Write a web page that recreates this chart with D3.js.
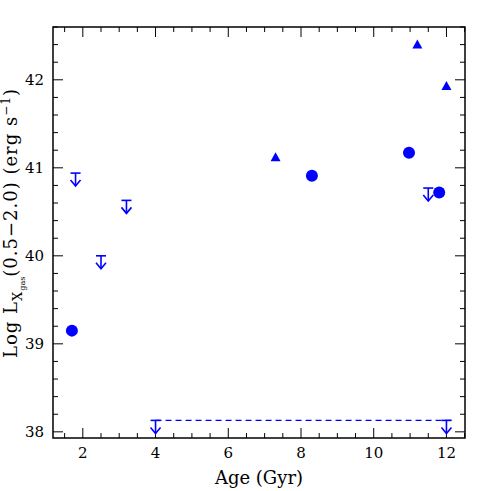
<!DOCTYPE html>
<html lang="en">
<head>
<meta charset="UTF-8">
<title>Lx gas vs age</title>
<script src="https://d3js.org/d3.v7.min.js"></script>
<style>
  body { margin: 0; background: #fff; }
  text { font-family: "DejaVu Serif", serif; fill: #000; }
</style>
</head>
<body>
<svg width="491" height="491"></svg>
<script>
// detections (filled circles)
var circleAge = [1.7, 8.3, 10.97, 11.8];
var circleLx = [39.15, 40.91, 41.17, 40.72];
// triangles
var triAge = [7.3, 11.2, 12.0];
var triLx = [41.12, 42.4, 41.93];
// upper limits
var limAge = [1.8, 2.5, 3.2, 11.5, 4.0, 12.0];
var limLx = [40.94, 40.0, 40.63, 40.77, 38.13, 38.13];
// dashed range
var rangeAge = [4.0, 12.0];
var rangeLx = 38.13;

var xTicks = [2, 4, 6, 8, 10, 12];
var yTicks = [38, 39, 40, 41, 42];

var svg = d3.select("svg");
var pL = 53, pR = 465, pT = 27, pB = 438;
var blue = "#0000ff";

var x = d3.scaleLinear().domain([1.18, 12.51]).range([pL, pR]);
var y = d3.scaleLinear().domain([37.93, 42.6]).range([pB, pT]);

var g = svg.append("g");

// frame
g.append("rect").attr("x", pL).attr("y", pT)
  .attr("width", pR - pL).attr("height", pB - pT)
  .attr("fill", "none").attr("stroke", "#000").attr("stroke-width", 1.5);

// ticks on all sides
var xMinor = d3.range(1.5, 12.51, 0.5);
var yMinor = d3.range(38, 42.61, 0.2);
xMinor.forEach(function (v) {
  var major = Math.abs(v - Math.round(v)) < 1e-6 && Math.round(v) % 2 === 0;
  var len = major ? 10 : 5;
  g.append("line").attr("x1", x(v)).attr("x2", x(v)).attr("y1", pB).attr("y2", pB - len).attr("stroke", "#000");
  g.append("line").attr("x1", x(v)).attr("x2", x(v)).attr("y1", pT).attr("y2", pT + len).attr("stroke", "#000");
});
yMinor.forEach(function (v) {
  var major = Math.abs(v - Math.round(v)) < 1e-6;
  var len = major ? 10 : 5;
  g.append("line").attr("y1", y(v)).attr("y2", y(v)).attr("x1", pL).attr("x2", pL + len).attr("stroke", "#000");
  g.append("line").attr("y1", y(v)).attr("y2", y(v)).attr("x1", pR).attr("x2", pR - len).attr("stroke", "#000");
});

// tick labels
g.selectAll(".xt").data(xTicks).enter().append("text")
  .attr("x", function (d) { return x(d); }).attr("y", 458)
  .attr("text-anchor", "middle").attr("font-size", 15).text(function (d) { return d; });
g.selectAll(".yt").data(yTicks).enter().append("text")
  .attr("x", 44).attr("y", function (d) { return y(d) + 5; })
  .attr("text-anchor", "end").attr("font-size", 15).text(function (d) { return d; });

// axis titles
svg.append("text").attr("x", 259).attr("y", 484).attr("text-anchor", "middle")
  .attr("font-size", 18).text("Age (Gyr)");

var yl = svg.append("text").attr("transform", "translate(17,223) rotate(-90)")
  .attr("text-anchor", "middle").attr("font-size", 18).attr("letter-spacing", 1);
yl.append("tspan").text("Log L");
yl.append("tspan").attr("font-size", 13).attr("dy", 5).text("X");
yl.append("tspan").attr("font-size", 8).attr("dy", 3).attr("letter-spacing", 0).text("gas");
yl.append("tspan").attr("dy", -8).text("(0.5\u22122.0) (erg s");
yl.append("tspan").attr("font-size", 12).attr("dy", -7).text("\u22121");
yl.append("tspan").attr("dy", 7).text(")");

// dashed range line
g.append("line").attr("x1", x(rangeAge[0])).attr("x2", x(rangeAge[1]) + 5)
  .attr("y1", y(rangeLx)).attr("y2", y(rangeLx))
  .attr("stroke", blue).attr("stroke-width", 1.3).attr("stroke-dasharray", "6,4");

// upper limits
limAge.forEach(function (a, i) {
  var px = x(a), py = y(limLx[i]);
  var lg = g.append("g").attr("stroke", blue).attr("stroke-width", 1.6).attr("fill", "none");
  lg.append("line").attr("x1", px - 5).attr("x2", px + 5).attr("y1", py).attr("y2", py);
  lg.append("line").attr("x1", px).attr("x2", px).attr("y1", py).attr("y2", py + 13);
  lg.append("path").attr("d", "M" + (px - 5) + "," + (py + 7) + "L" + px + "," + (py + 13) + "L" + (px + 5) + "," + (py + 7));
});

// circles
g.selectAll(".c").data(circleAge).enter().append("circle")
  .attr("cx", function (d) { return x(d); })
  .attr("cy", function (d, i) { return y(circleLx[i]); })
  .attr("r", 6).attr("fill", blue);

// triangles
g.selectAll(".t").data(triAge).enter().append("path")
  .attr("transform", function (d, i) { return "translate(" + x(d) + "," + y(triLx[i]) + ")"; })
  .attr("d", "M0,-5L5,4L-5,4Z").attr("fill", blue);
</script>
</body>
</html>
